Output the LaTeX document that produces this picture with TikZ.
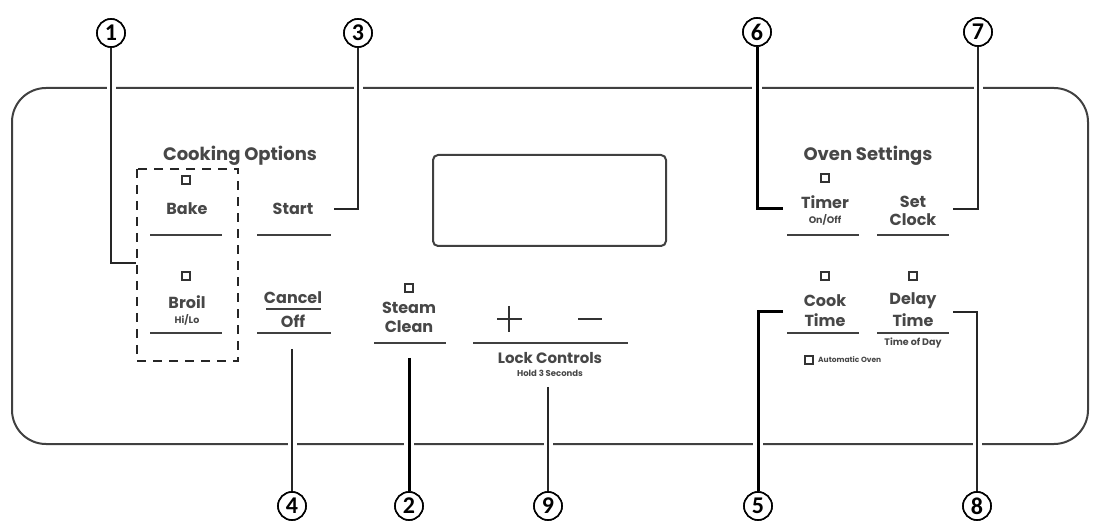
\documentclass[tikz,border=0pt]{standalone}
\usepackage{fontspec}
\setmainfont{Poppins}
\newfontfamily\numfont{Carlito}
\begin{document}
\begin{tikzpicture}[x=1pt,y=-1pt,
  lbl/.style={font=\fontsize{16}{17}\selectfont\bfseries, text=black!72, inner sep=0pt, align=center},
  sub/.style={font=\fontsize{9.5}{10}\selectfont\bfseries, text=black!72, inner sep=0pt},
  hdr/.style={font=\fontsize{18}{19}\selectfont\bfseries, text=black!72, inner sep=0pt},
  under/.style={draw=black!75, line width=1.4pt},
  ind/.style={draw=black!80, line width=1.2pt, minimum size=8pt, inner sep=0pt},
  callout/.style={circle, draw=black, line width=1.6pt, fill=white, minimum size=28pt, inner sep=0pt, font=\numfont\fontsize{24}{24}\selectfont\bfseries},
  leader/.style={draw=black!85, line width=1.8pt, preaction={draw=white, line width=9pt}},
  leaderthick/.style={draw=black, line width=3pt, preaction={draw=white, line width=10pt}}
]
\useasboundingbox (0,0) rectangle (1095,526);
% panel
\draw[black!75, line width=2pt, rounded corners=34pt] (12,88) rectangle (1088,444);
% display
\draw[black!75, line width=2pt, rounded corners=5pt] (433,155) rectangle (666,246);

% headers
\node[hdr] (cook) at (240,156) {Cooking Options};
\node[hdr] (oven) at (868,156) {Oven Settings};

% dashed box
\draw[black!85, line width=2.6pt, dash pattern=on 9pt off 7pt] (137,169) rectangle (238,361);

% Bake
\node[ind] (bakeind) at (186,180) {};
\node[lbl] (bake) at (187,209) {Bake};
\draw[under] (150,235) -- (222,235);
% Start
\node[lbl] (start) at (293,209) {Start};
\draw[under] (257,235) -- (331,235);
% Broil
\node[ind] (broilind) at (186,276) {};
\node[lbl] (broil) at (187,302) {Broil};
\node[sub] (hilo) at (187,320) {Hi/Lo};
\draw[under] (150,333) -- (222,333);
% Cancel/Off
\node[lbl] (cancel) at (293,298) {Cancel};
\draw[under] (266,309) -- (321,309);
\node[lbl] (off) at (293,321) {Off};
\draw[under] (257,333) -- (331,333);
% Steam Clean
\node[ind] (steamind) at (409,288) {};
\node[lbl] (steam) at (409,308) {Steam};
\node[lbl] (clean) at (409,327) {Clean};
\draw[under] (374,343) -- (446,343);
% + -
\coordinate (plus) at (509,319);
\draw[black!80, line width=2.4pt] (497,319) -- (522,319) (509,306) -- (509,332);
\coordinate (minus) at (590,319);
\draw[black!80, line width=2pt] (578,319) -- (602,319);
\draw[under] (473,343) -- (628,343);
\node[font=\fontsize{15}{16}\selectfont\bfseries, text=black!72, inner sep=0pt] (lock) at (550,358) {Lock Controls};
\node[font=\fontsize{8.5}{9}\selectfont\bfseries, text=black!72, inner sep=0pt] (hold) at (550,373) {Hold 3 Seconds};
% Timer
\node[ind] (timerind) at (825,178) {};
\node[lbl] (timer) at (825,202) {Timer};
\node[sub] (onoff) at (825,220) {On/Off};
\draw[under] (787,235) -- (859,235);
% Set Clock
\node[lbl] (set) at (913,202) {Set};
\node[lbl] (clock) at (913,220) {Clock};
\draw[under] (877,235) -- (949,235);
% Cook Time
\node[ind] (cookind) at (825,276) {};
\node[lbl] (cooktxt) at (825,301) {Cook};
\node[lbl] (cooktime) at (825,320) {Time};
\draw[under] (787,333) -- (859,333);
% Delay Time
\node[ind] (delayind) at (913,276) {};
\node[lbl] (delay) at (913,301) {Delay};
\node[lbl] (delaytime) at (913,320) {Time};
\draw[under] (877,333) -- (949,333);
\node[sub] (tod) at (913,343) {Time of Day};
\node[ind, line width=1.5pt] (autoind) at (809,360) {};
\node[font=\fontsize{7.5}{8}\selectfont\bfseries, text=black!72, inner sep=0pt, anchor=west] (auto) at (818,360) {Automatic Oven};

% callouts
\node[callout] (c1) at (111,33) {1};
\node[callout] (c3) at (358,33) {3};
\node[callout] (c6) at (757,32) {6};
\node[callout] (c7) at (978,32) {7};
\node[callout] (c4) at (292,506) {4};
\node[callout] (c2) at (409,506) {2};
\node[callout] (c9) at (548,506) {9};
\node[callout] (c5) at (758,506) {5};
\node[callout] (c8) at (977,506) {8};

% leader end coordinates
\coordinate (e1) at (136,263);
\coordinate (e3) at (334,209);
\coordinate (e4) at (292,349);
\coordinate (e2) at (409,358);
\coordinate (e9) at (548,387);
\coordinate (e6) at (783,209);
\coordinate (e7) at (953,209);
\coordinate (e5) at (783,312);
\coordinate (e8) at (953,312);

% leaders
\draw[leader] (c1.south) |- (e1);
\draw[leader] (c3.south) |- (e3);
\draw[leader] (e4) -- (c4.north);
\draw[leaderthick] (e2) -- (c2.north);
\draw[leader] (e9) -- (c9.north);
\draw[leaderthick] (c6.south) |- (e6);
\draw[leader] (c7.south) |- (e7);
\draw[leaderthick] (e5) -| (c5.north);
\draw[leader] (e8) -| (c8.north);

% redraw callouts over halos
\foreach \n/\t in {c1/1,c3/3,c6/6,c7/7,c4/4,c2/2,c9/9,c5/5,c8/8}{
  \node[callout] at (\n) {\t};
}
\end{tikzpicture}
\end{document}
